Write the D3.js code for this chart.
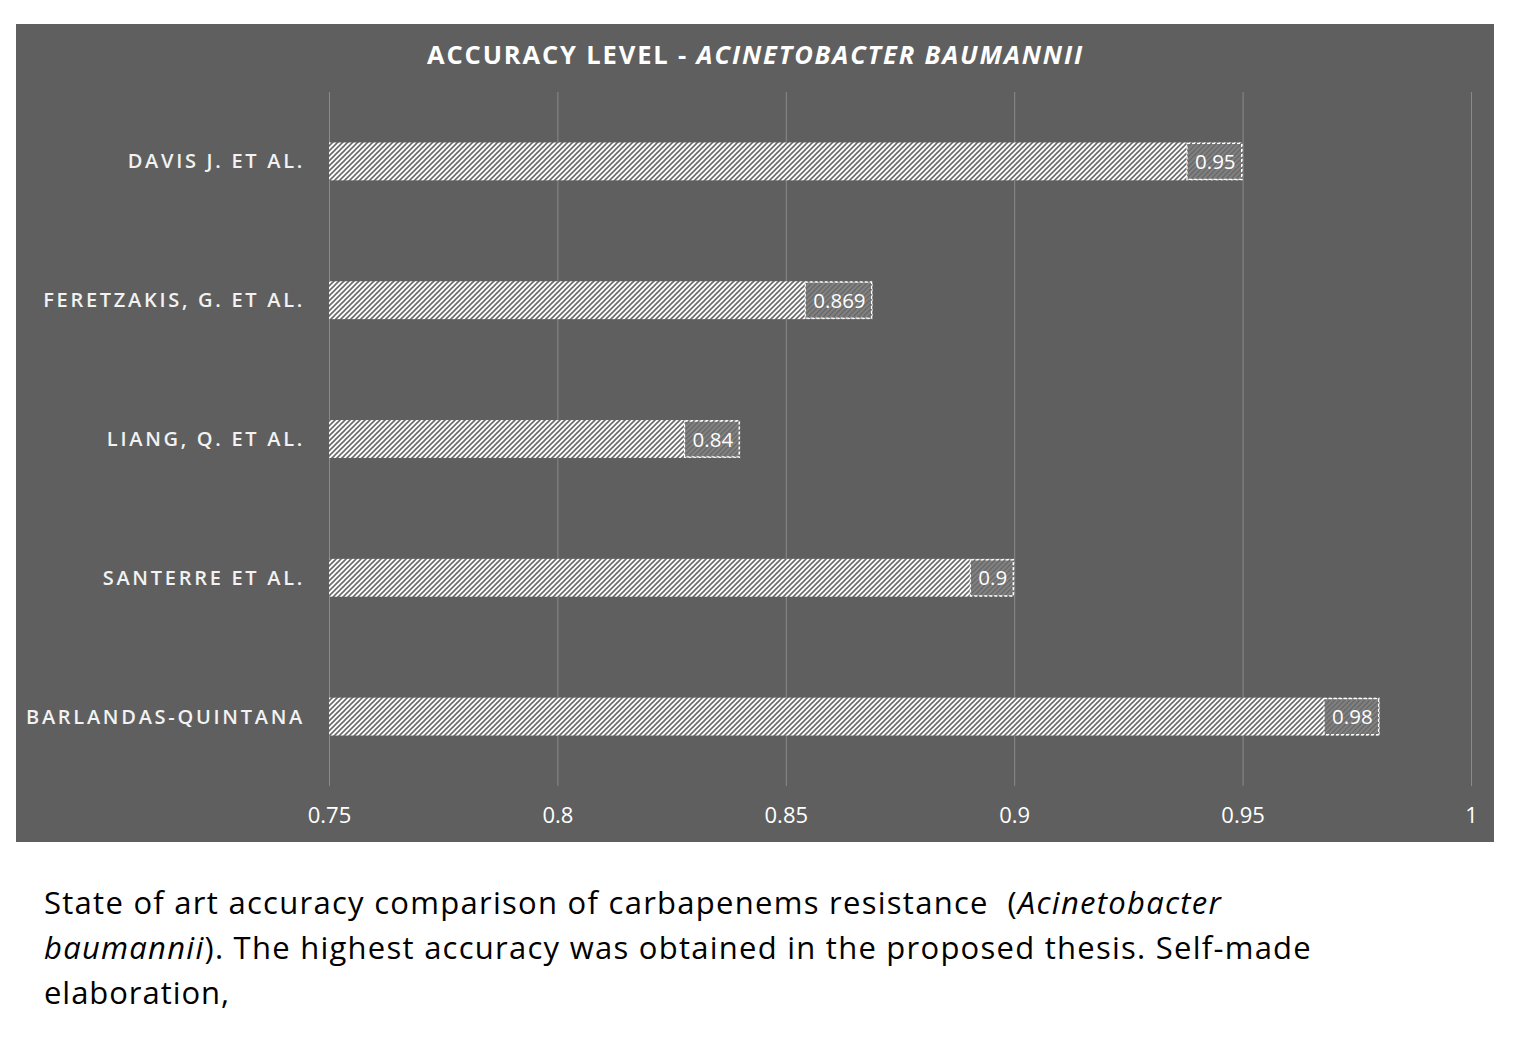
<!DOCTYPE html>
<html><head><meta charset="utf-8">
<script src="https://cdn.jsdelivr.net/npm/d3@7"></script>
<style>
body{margin:0;background:#fff;}
svg{display:block;}
text{white-space:pre;}
</style></head>
<body>
<svg id="c" width="1540" height="1056"></svg>
<script>
const categories = ["DAVIS J. ET AL.", "FERETZAKIS, G. ET AL.", "LIANG, Q. ET AL.", "SANTERRE ET AL.", "BARLANDAS-QUINTANA"];
const values = [0.95, 0.869, 0.84, 0.9, 0.98];
const valueLabels = ["0.95", "0.869", "0.84", "0.9", "0.98"];
const tickValues = [0.75, 0.8, 0.85, 0.9, 0.95, 1];
const tickLabels = ["0.75", "0.8", "0.85", "0.9", "0.95", "1"];

const svg = d3.select("#c");
const font = "Open Sans, sans-serif";
const defs = svg.append("defs");
const p1 = defs.append("pattern").attr("id","hatch").attr("patternUnits","userSpaceOnUse")
  .attr("width",5).attr("height",5);
p1.append("rect").attr("width",5).attr("height",5).attr("fill","#ffffff");
p1.append("path").attr("d","M-1,1 l2,-2 M0,5 l5,-5 M4,6 l2,-2").attr("stroke","#6a6a6a").attr("stroke-width",1.6);
const p2 = defs.append("pattern").attr("id","hatch2").attr("patternUnits","userSpaceOnUse")
  .attr("width",5).attr("height",5);
p2.append("rect").attr("width",5).attr("height",5).attr("fill","#808080");
p2.append("path").attr("d","M-1,1 l2,-2 M0,5 l5,-5 M4,6 l2,-2").attr("stroke","#686868").attr("stroke-width",1.4);

function fitSpacing(sel, target){
  sel.attr("letter-spacing",0);
  const w = sel.node().getComputedTextLength();
  const n = sel.text().length;
  sel.attr("letter-spacing",(target-w)/n);
}

// chart background
svg.append("rect").attr("x",16).attr("y",24).attr("width",1478).attr("height",818).attr("fill","#5f5f5f");

const title = svg.append("text").attr("x",427).attr("y",64)
  .attr("font-family",font).attr("font-weight","bold").attr("font-size",25.5)
  .attr("fill","#fff");
title.append("tspan").text("ACCURACY LEVEL - ");
title.append("tspan").attr("font-style","italic").text("ACINETOBACTER BAUMANNII");
fitSpacing(title, 657);

const x = d3.scaleLinear().domain([0.75,1]).range([329,1471]);
const y = d3.scaleBand().domain(categories).range([92,786]).paddingInner(0.727).paddingOuter(0.3635);

// gridlines
const grid = svg.append("g").attr("transform","translate(0,786)")
  .call(d3.axisBottom(x).tickValues(tickValues).tickSize(-694).tickFormat(""));
grid.select(".domain").remove();
grid.selectAll("line").attr("stroke","#8a8a8a").attr("stroke-width",1);

// tick labels
const ax = svg.append("g").attr("transform","translate(0,786)")
  .call(d3.axisBottom(x).tickValues(tickValues).tickSize(0).tickPadding(21).tickFormat((d,i)=>tickLabels[i]));
ax.select(".domain").remove();
ax.selectAll("text").attr("fill","#fff").attr("font-size",22).attr("font-family",font);

// category labels
const ay = svg.append("g").attr("transform","translate(305,0)")
  .call(d3.axisLeft(y).tickSize(0).tickPadding(0));
ay.select(".domain").remove();
const yl = ay.selectAll("text").attr("fill","#f2f2f2").attr("font-size",20)
  .attr("font-family",font).attr("font-weight",600).attr("dy","0.35em");
const longest = yl.filter(d=>d==="BARLANDAS-QUINTANA");
fitSpacing(longest, 279);
yl.attr("letter-spacing", longest.attr("letter-spacing"));

// bars
svg.append("g").selectAll("rect").data(categories).join("rect")
  .attr("x",x(0.75)).attr("y",d=>y(d)).attr("height",y.bandwidth())
  .attr("width",(d,i)=>x(values[i])-x(0.75)).attr("fill","url(#hatch)");

// data labels
const lab = svg.append("g").selectAll("g").data(categories).join("g");
lab.each(function(d,i){
  const g = d3.select(this);
  const t = g.append("text").attr("font-family",font).attr("font-size",20.5).attr("fill","#fff")
    .attr("text-anchor","end").attr("x",x(values[i])-7).attr("y",y(d)+y.bandwidth()/2+7.5).text(valueLabels[i]);
  const w = t.node().getComputedTextLength();
  g.insert("rect","text").attr("x",x(values[i])-w-15).attr("y",y(d)+1).attr("width",w+14).attr("height",y.bandwidth()-2)
    .attr("fill","url(#hatch2)").attr("stroke","#fff").attr("stroke-width",1.2).attr("stroke-dasharray","3,2");
});

// caption
const capFont = "Open Sans, sans-serif";
function capLine(yy, parts, target){
  const t = svg.append("text").attr("font-family",capFont).attr("font-size",31).attr("fill","#000")
    .attr("x",44).attr("y",yy);
  parts.forEach(p=>t.append("tspan").attr("font-style",p[1]?"italic":null).text(p[0]));
  if(target) fitSpacing(t, target);
  return t;
}
capLine(914, [["State of art accuracy comparison of carbapenems resistance  (",0],["Acinetobacter",1]], 1178);
capLine(959, [["baumannii",1],["). The highest accuracy was obtained in the proposed thesis. Self-made",0]], 1268);
capLine(1004, [["elaboration,",0]], 186);
</script>
</body></html>
